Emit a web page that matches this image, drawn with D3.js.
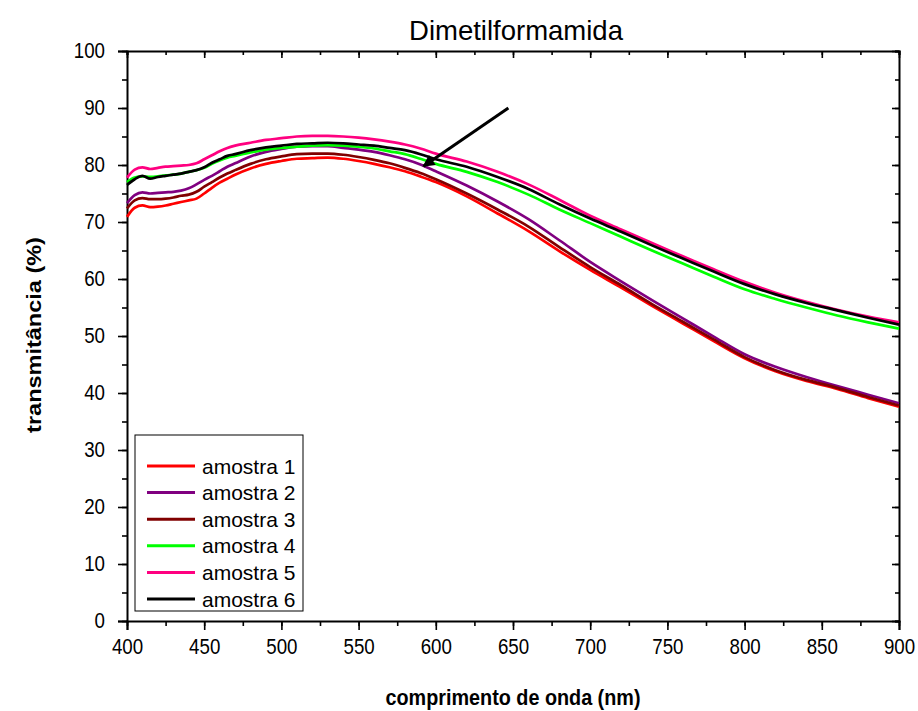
<!DOCTYPE html>
<html>
<head>
<meta charset="utf-8">
<script src="https://cdn.jsdelivr.net/npm/d3@7/dist/d3.min.js"></script>
<style>
  html, body { margin: 0; padding: 0; background: #fff; }
  svg { display: block; font-family: "Liberation Sans", Arial, sans-serif; }
</style>
</head>
<body>
<svg id="chart" width="918" height="711"></svg>
<script>
// ---------- DATA ----------
const wavelength = [400,405,410,415,420,425,430,435,440,445,450,455,460,465,470,480,490,500,510,520,530,540,550,560,570,580,590,600,620,640,660,680,700,720,740,760,780,800,820,840,860,880,900];

const amostra1 = [70.9,72.5,72.9,72.6,72.7,72.9,73.2,73.5,73.8,74.1,75.0,76.0,76.9,77.6,78.3,79.4,80.2,80.7,81.1,81.2,81.3,81.1,80.7,80.2,79.6,78.9,78.0,77.0,74.5,71.5,68.4,64.9,61.6,58.5,55.3,52.2,49.1,46.1,43.8,42.1,40.7,39.1,37.6];
const amostra2 = [73.3,74.7,75.2,75.0,75.1,75.2,75.3,75.5,75.9,76.6,77.4,78.1,78.9,79.7,80.3,81.5,82.3,82.8,83.2,83.3,83.3,83.0,82.7,82.3,81.7,81.0,80.1,78.9,76.4,73.6,70.5,66.8,63.0,59.6,56.3,53.1,49.9,46.8,44.6,42.8,41.2,39.7,38.2];
const amostra3 = [72.4,73.8,74.2,74.0,74.0,74.1,74.3,74.6,74.8,75.3,76.2,77.0,77.8,78.5,79.1,80.2,81.0,81.5,81.9,82.0,82.0,81.8,81.4,80.9,80.3,79.5,78.6,77.5,75.0,72.2,69.2,65.6,62.1,58.9,55.6,52.5,49.4,46.3,44.0,42.3,40.9,39.3,37.8];
const amostra4 = [77.0,77.8,78.0,77.9,78.0,78.2,78.3,78.5,78.8,79.1,79.5,80.2,80.8,81.3,81.6,82.2,82.7,83.0,83.2,83.4,83.5,83.4,83.2,82.9,82.4,81.9,81.1,80.2,78.8,77.0,74.8,72.2,69.8,67.4,65.0,62.7,60.4,58.2,56.5,55.0,53.6,52.4,51.3];
const amostra5 = [77.8,79.2,79.6,79.3,79.5,79.7,79.8,79.9,80.0,80.3,81.0,81.7,82.4,83.0,83.4,83.9,84.4,84.7,85.0,85.1,85.1,85.0,84.8,84.5,84.1,83.6,82.9,82.0,80.6,78.8,76.6,73.9,71.1,68.7,66.3,64.0,61.7,59.5,57.6,56.0,54.6,53.4,52.4];
const amostra6 = [76.5,77.5,78.1,77.6,77.9,78.1,78.3,78.5,78.8,79.1,79.6,80.4,81.0,81.6,81.9,82.6,83.1,83.4,83.7,83.8,83.9,83.8,83.6,83.4,83.0,82.6,81.9,81.0,79.7,77.9,75.8,73.1,70.6,68.3,65.9,63.6,61.3,59.1,57.3,55.8,54.5,53.2,52.0];

const seriesNames = ["amostra 1","amostra 2","amostra 3","amostra 4","amostra 5","amostra 6"];
const seriesColors = ["#ff0000","#800080","#800000","#00ff00","#ff0080","#000000"];
const seriesValues = [amostra1, amostra2, amostra3, amostra4, amostra5, amostra6];

const xTicks = [400,450,500,550,600,650,700,750,800,850,900];
const yTicks = [0,10,20,30,40,50,60,70,80,90,100];

const titleText = "Dimetilformamida";
const xLabel = "comprimento de onda (nm)";
const yLabel = "transmitância (%)";

// arrow annotation (data coords): tail -> head
const arrowTail = [647, 90];
const arrowHead = [592, 79.8];

// ---------- LAYOUT ----------
const W = 918, H = 711;
const margin = {left: 127, right: 19, top: 51, bottom: 90};
const iw = W - margin.left - margin.right;
const ih = H - margin.top - margin.bottom;

const svg = d3.select("#chart");
const g = svg.append("g").attr("transform", `translate(${margin.left},${margin.top})`);

const x = d3.scaleLinear().domain([400, 900]).range([0, iw]);
const y = d3.scaleLinear().domain([0, 100]).range([ih, 0]);

const tickFont = 21.5, tickSX = 0.87;

function squeezeText(sel, sx) {
  sel.selectAll("text").each(function() {
    const t = d3.select(this);
    const x0 = +t.attr("x") || 0, y0 = +t.attr("y") || 0;
    t.attr("x", 0).attr("y", 0)
     .attr("transform", `translate(${x0},${y0}) scale(${sx},1)`)
     .attr("font-size", tickFont)
     .attr("font-family", "Liberation Sans, Arial, sans-serif")
     .attr("fill", "#000");
  });
}

// minor ticks
const xMinor = d3.range(400, 901, 25);
const yMinor = d3.range(0, 101, 5);

// bottom axis
g.append("g").attr("transform", `translate(0,${ih})`)
  .call(d3.axisBottom(x).tickValues(xMinor).tickSize(5).tickFormat(""))
  .call(a => a.select(".domain").remove());
const bx = g.append("g").attr("transform", `translate(0,${ih})`)
  .call(d3.axisBottom(x).tickValues(xTicks).tickSize(9).tickPadding(9).tickFormat(d3.format("d")));
squeezeText(bx, tickSX);

// left axis
g.append("g")
  .call(d3.axisLeft(y).tickValues(yMinor).tickSize(5).tickFormat(""))
  .call(a => a.select(".domain").remove());
const ly = g.append("g")
  .call(d3.axisLeft(y).tickValues(yTicks).tickSize(9).tickPadding(13).tickFormat(d3.format("d")));
squeezeText(ly, tickSX);

// top axis (inward ticks)
g.append("g")
  .call(d3.axisTop(x).tickValues(xMinor).tickSize(-4).tickFormat(""));
g.append("g")
  .call(d3.axisTop(x).tickValues(xTicks).tickSize(-7).tickFormat(""))
  .call(a => a.select(".domain").remove());
// right axis (inward ticks)
g.append("g").attr("transform", `translate(${iw},0)`)
  .call(d3.axisRight(y).tickValues(yMinor).tickSize(-4).tickFormat(""));
g.append("g").attr("transform", `translate(${iw},0)`)
  .call(d3.axisRight(y).tickValues(yTicks).tickSize(-7).tickFormat(""))
  .call(a => a.select(".domain").remove());

g.selectAll(".domain").attr("stroke", "#000").attr("stroke-width", 2);
g.selectAll(".tick line").attr("stroke", "#000").attr("stroke-width", 1.6);

// lines
const line = d3.line()
  .x((d, i) => x(wavelength[i]))
  .y(d => y(d))
  .curve(d3.curveMonotoneX);

seriesValues.forEach((vals, k) => {
  g.append("path")
    .datum(vals)
    .attr("fill", "none")
    .attr("stroke", seriesColors[k])
    .attr("stroke-width", 2.7)
    .attr("stroke-linejoin", "round")
    .attr("d", line);
});

// arrow
const defs = svg.append("defs");
defs.append("marker")
  .attr("id", "arrowhead")
  .attr("viewBox", "0 0 10 10")
  .attr("refX", 9).attr("refY", 5)
  .attr("markerWidth", 5).attr("markerHeight", 4)
  .attr("markerUnits", "strokeWidth")
  .attr("orient", "auto")
  .append("path").attr("d", "M0,0 L10,5 L0,10 z").attr("fill", "#000");
g.append("line")
  .attr("x1", x(arrowTail[0])).attr("y1", y(arrowTail[1]))
  .attr("x2", x(arrowHead[0])).attr("y2", y(arrowHead[1]))
  .attr("stroke", "#000").attr("stroke-width", 3)
  .attr("marker-end", "url(#arrowhead)");

// legend
const legX = 8, legY = 384, legW = 168, legH = 176;
const lg = g.append("g").attr("transform", `translate(${legX},${legY})`);
lg.append("rect").attr("width", legW).attr("height", legH)
  .attr("fill", "#fff").attr("stroke", "#000").attr("stroke-width", 1);
seriesNames.forEach((name, k) => {
  const yy = 31 + k * 26.6;
  lg.append("line").attr("x1", 12).attr("x2", 60).attr("y1", yy).attr("y2", yy)
    .attr("stroke", seriesColors[k]).attr("stroke-width", 3);
  lg.append("text").attr("x", 67).attr("y", yy).attr("dy", "0.36em")
    .attr("font-size", 21).attr("fill", "#000").text(name);
});

// title
svg.append("text").attr("x", margin.left + iw / 2 + 3).attr("y", 40)
  .attr("text-anchor", "middle").attr("font-size", 27.5).attr("fill", "#000")
  .text(titleText);

// axis labels
svg.append("text")
  .attr("transform", `translate(${margin.left + iw / 2},705) scale(0.9,1)`)
  .attr("text-anchor", "middle").attr("font-size", 22).attr("font-weight", "bold")
  .attr("fill", "#000").text(xLabel);
svg.append("text")
  .attr("transform", `translate(41,${margin.top + ih / 2 - 1}) rotate(-90) scale(1,0.88)`)
  .attr("text-anchor", "middle").attr("font-size", 23.5).attr("font-weight", "bold")
  .attr("fill", "#000").text(yLabel);
</script>
</body>
</html>
